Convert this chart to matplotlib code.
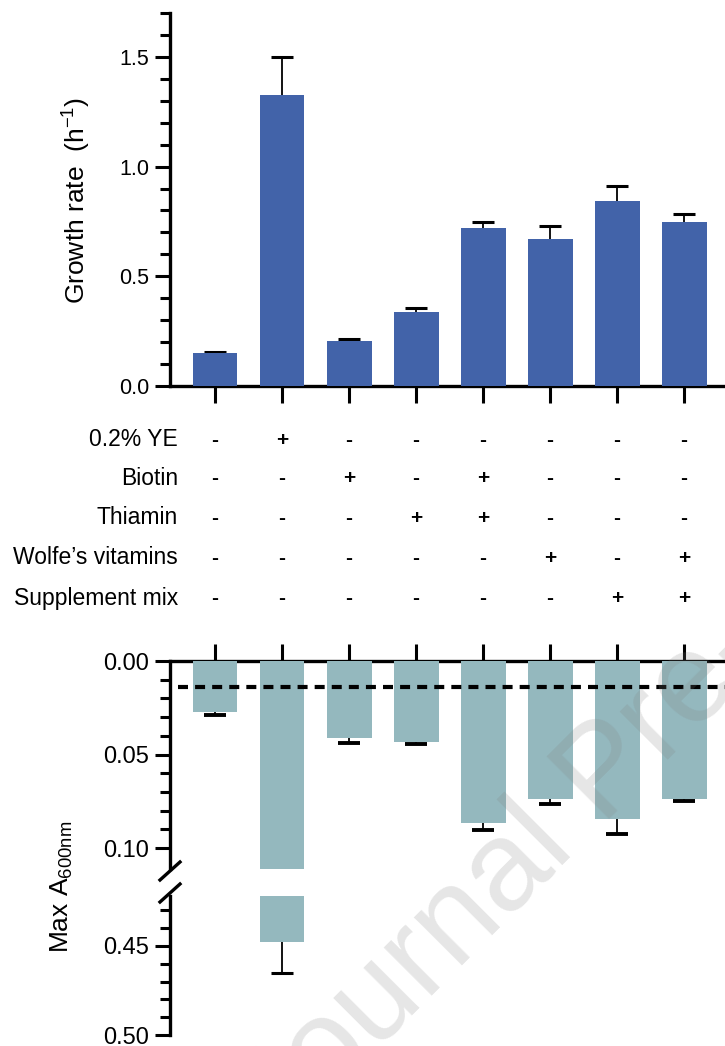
import numpy as np
import matplotlib as mpl
mpl.use('Agg')
import matplotlib.pyplot as plt
from matplotlib.transforms import blended_transform_factory

plt.rcParams['font.family'] = ['Liberation Sans', 'DejaVu Sans']
plt.rcParams['mathtext.fontset'] = 'custom'
plt.rcParams['mathtext.rm'] = 'Liberation Sans'
plt.rcParams['mathtext.it'] = 'Liberation Sans'

# ---- datos ----
conditions = ['0.2% YE', 'Biotin', 'Thiamin', 'Wolfe\u2019s vitamins', 'Supplement mix']
signs = [
    ['-', '+', '-', '-', '-', '-', '-', '-'],
    ['-', '-', '+', '-', '+', '-', '-', '-'],
    ['-', '-', '-', '+', '+', '-', '-', '-'],
    ['-', '-', '-', '-', '-', '+', '-', '+'],
    ['-', '-', '-', '-', '-', '-', '+', '+'],
]
growth = [0.152, 1.324, 0.207, 0.339, 0.720, 0.669, 0.845, 0.746]
growth_err = [0.004, 0.175, 0.007, 0.018, 0.028, 0.059, 0.068, 0.038]
maxod = [0.0271, 0.448, 0.0412, 0.0435, 0.0866, 0.0737, 0.0844, 0.0738]
maxod_err = [0.0016, 0.017, 0.0024, 0.0011, 0.0037, 0.0025, 0.0081, 0.0013]
threshold = 0.0138

colorG = '#4263a9'
colorM = '#94b8be'
W, H = 725, 1046
x = np.arange(len(growth))

fig = plt.figure(figsize=(W/100, H/100), dpi=100)

def px(l, t, r, b):
    return [l/W, 1-b/H, (r-l)/W, (b-t)/H]

def estilo(ax, fs):
    for s in ['top', 'right', 'bottom', 'left']:
        ax.spines[s].set_visible(False)
        ax.spines[s].set_linewidth(2.4)
    ax.tick_params(which='major', length=11, width=2.2, labelsize=fs, pad=4)
    ax.tick_params(which='minor', length=7, width=2.2)
    ax.set_xlim(-0.672, 7.61)

def barras(ax, vals, errs, color, cap=2.2):
    # barras por encima del error simetrico: solo se ve la mitad exterior
    ax.bar(x, vals, width=0.67, color=color, zorder=3)
    ax.errorbar(x, vals, yerr=errs, fmt='none', ecolor='k', elinewidth=1.3,
                capsize=8, capthick=cap, zorder=2)

########################################################################
#                         Growth rate
########################################################################
ax1 = fig.add_axes(px(170, 13, 725, 386))
estilo(ax1, 15.5)
ax1.spines['left'].set_visible(True)
ax1.spines['bottom'].set_visible(True)
barras(ax1, growth, growth_err, colorG)
ax1.set_ylim(0, 1.7)
ax1.set_yticks([0, 0.5, 1.0, 1.5])
ax1.set_yticks(np.arange(0, 1.75, 0.1), minor=True)
ax1.set_yticklabels(['0.0', '0.5', '1.0', '1.5'])
ax1.set_xticks(x)
ax1.set_xticklabels([])
ax1.tick_params(axis='x', length=12)

fig.text(77/W, 1-200/H, 'Growth rate  (h$^{-1}$)', rotation=90, ha='center', va='center',
         fontsize=19)

# tabla de condiciones
tr = blended_transform_factory(ax1.transData, fig.transFigure)
rows_y = [440, 479, 518, 558, 598]
for cond, fila, yy in zip(conditions, signs, rows_y):
    fig.text(178/W, 1-yy/H, cond, ha='right', va='center', fontsize=16.5)
    for i, s in enumerate(fila):
        ax1.text(x[i], 1-yy/H, s, transform=tr, ha='center', va='center',
                 fontsize=15, fontweight='bold')

########################################################################
#                         Max A600 (eje cortado)
########################################################################
ax2 = fig.add_axes(px(170, 661, 725, 868.6))
estilo(ax2, 17)
ax2.spines['left'].set_visible(True)
ax2.spines['top'].set_visible(True)
barras(ax2, maxod, maxod_err, colorM, cap=2.8)
ax2.axhline(threshold, xmin=0.014, color='k', lw=3, dashes=(2.4, 1.7), zorder=4)
ax2.set_ylim(0.111, 0)
ax2.set_yticks([0, 0.05, 0.10])
ax2.set_yticklabels(['0.00', '0.05', '0.10'])
ax2.set_yticks(np.arange(0, 0.105, 0.01), minor=True)
ax2.xaxis.tick_top()
ax2.set_xticks(x)
ax2.set_xticklabels([])
ax2.tick_params(axis='x', length=12)

ax3 = fig.add_axes(px(170, 896, 725, 1035))
estilo(ax3, 17)
ax3.spines['left'].set_visible(True)
barras(ax3, maxod, maxod_err, colorM)
ax3.set_ylim(0.50, 0.422)
ax3.set_yticks([0.45, 0.50])
ax3.set_yticklabels(['0.45', '0.50'])
ax3.set_yticks(np.arange(0.43, 0.495, 0.01), minor=True)
ax3.set_xticks([])

# marcas de corte
for yc in [871, 893]:
    fig.add_artist(plt.Line2D([160/W, 180/W], [1-(yc+9)/H, 1-(yc-9)/H],
                              color='k', lw=2.4, transform=fig.transFigure))

fig.text(62/W, 1-887/H, 'Max A$_{600\\mathrm{nm}}$', rotation=90, ha='center', va='center',
         fontsize=19)

# marca de agua
fig.text(630/W, 1-798/H, 'Journal Pre-proof', rotation=45, rotation_mode='anchor',
         ha='center', va='baseline', fontsize=92, color='#808080', alpha=0.2, zorder=10)

plt.savefig('out.png', dpi=100)
